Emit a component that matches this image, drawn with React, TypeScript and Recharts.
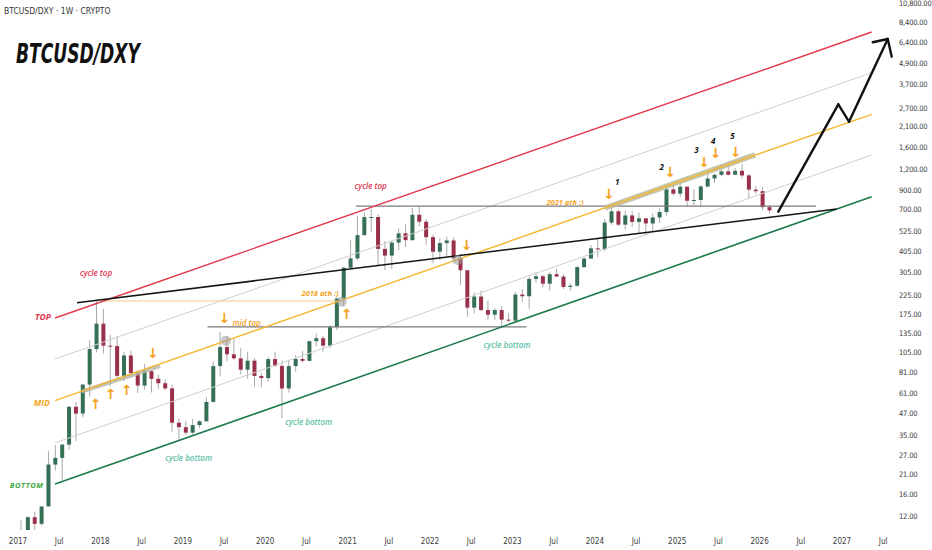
import React from 'react';
import { Bar, ComposedChart, ReferenceDot, ReferenceLine, XAxis, YAxis } from 'recharts';

const FIRST_YEAR = 2017;
const FIRST_OPEN = 9.4;

// monthly BTCUSD/DXY, Jan 2017 .. Feb 2026
const closes = [
  9.7, 11.8, 10.8, 13.6, 23.7, 25.9, 30.9, 51, 46.6, 68.5, 109.7, 153.6,
  114.7, 114, 76.9, 100.7, 79.8, 67.6, 81.8, 73.9, 69.7, 65.1, 41.3, 38.9,
  36.2, 40, 42.1, 54.4, 87.5, 112.6, 102.3, 97, 83.4, 94, 76.8, 74.6,
  96, 87.7, 65, 87.5, 96.2, 93.8, 121.7, 126.6, 114.8, 146.8, 214.4, 322.6,
  365, 497, 631, 632, 414, 379, 450, 509, 465, 651, 594, 484,
  399, 447, 463, 366, 312, 190, 220, 184, 173, 184, 162, 160,
  226, 221, 278, 288, 261, 296, 287, 250, 254, 325, 364, 417,
  412, 587, 682, 571, 645, 592, 621, 580, 628, 675, 912, 861,
  945, 784, 792, 947, 1053, 1105, 1158, 1107, 1166, 1097, 909, 890,
  720, 690,
];
const highs = [
  11.3, 11.9, 12.7, 13.6, 28.3, 30.7, 31, 51.3, 54.2, 68.5, 123, 208,
  186.7, 132.6, 130, 106, 107.4, 82.6, 90.1, 82.1, 78, 73.5, 68.1, 43.7,
  42.2, 43.5, 42.5, 57.8, 93, 138, 130, 126, 111, 106, 97.4, 80.6,
  98.3, 106, 94.3, 95, 101.2, 107, 122.7, 134.2, 130.6, 150.8, 215.9, 325.9,
  464, 644, 672, 702, 654, 459, 460, 543, 572, 713, 730, 615,
  500, 477, 488, 481, 386, 313, 232, 238, 209, 189, 194, 176,
  234, 243, 285, 305, 294, 306, 318, 296, 262, 330, 369, 436,
  477, 615, 712, 696, 688, 688, 670, 625, 662, 708, 935, 1014,
  1001, 949, 913, 963, 1119, 1128, 1260, 1269, 1209, 1281, 1116, 955,
  940, 740,
];
const lows = [
  7.5, 9.2, 8.9, 10.5, 13.6, 21.9, 19.4, 28.9, 32.3, 44.6, 58.5, 105,
  103.4, 67, 72, 71.8, 75.4, 61.2, 64.2, 61.6, 64.6, 63.5, 36.7, 32.3,
  35.1, 35.3, 38.5, 41.8, 54, 76.4, 93.5, 95.1, 78.3, 74.1, 66.6, 66,
  71.1, 86.4, 44, 61.5, 81.3, 91.9, 93.2, 113.4, 105.9, 110.9, 141.2, 193.4,
  321, 357, 494, 516, 334, 313, 317, 407, 424, 461, 558, 437,
  342, 357, 378, 365, 257, 168, 176, 181, 162, 162, 145, 157,
  159, 205, 187, 265, 249, 238, 285, 243, 237, 249, 323, 363,
  372, 403, 570, 559, 534, 555, 510, 500, 521, 583, 642, 838,
  818, 731, 737, 729, 936, 992, 1083, 1095, 1100, 1050, 805, 858,
  690, 660,
];

const priceTicks = [
  12, 16, 21, 27, 35, 47, 61, 81, 105, 135, 175, 225, 305, 405, 525, 700,
  900, 1200, 1600, 2100, 2700, 3700, 4900, 6400, 8400, 10800,
];
const timeLabels = [
  '2017', 'Jul', '2018', 'Jul', '2019', 'Jul', '2020', 'Jul', '2021', 'Jul', '2022',
  'Jul', '2023', 'Jul', '2024', 'Jul', '2025', 'Jul', '2026', 'Jul', '2027', 'Jul',
];
const timeTicks = timeLabels.map((_, i) => FIRST_YEAR + i * 0.5);

// drawn lines, [year, price] pairs
const topLine = [[2017.45, 165.6], [2027.36, 7352]];
const upperGrayLine = [[2017.45, 96.1], [2027.36, 4285]];
const midLine = [[2017.45, 55.3], [2027.36, 2468]];
const lowerGrayLine = [[2017.45, 31.6], [2027.36, 1439]];
const bottomLine = [[2017.45, 18.3], [2027.36, 827]];
const supportLine = [[2017.716, 202.8], [2026.936, 703]];
const ath2021Line = [[2021.1, 731], [2026.685, 731]];
const midTopLine = [[2019.3, 147], [2023.17, 147]];
const ath2018Line = [[2018.03, 207.5], [2020.87, 207.5]];
const projection = [[2026.227, 678], [2026.955, 2818], [2027.085, 2238], [2027.555, 6700]];
const projectionHead = [[2027.373, 6413], [2027.555, 6700], [2027.603, 5298]];
const band2018 = [[2017.773, 62.3], [2018.723, 87.6]];
const band2024 = [[2024.124, 712], [2025.944, 1439]];

const touchCircles = [[2019.524, 122.6], [2020.928, 205.7], [2022.331, 357.6]];
const arrowsDown = [
  [2018.638, 104.6], [2019.504, 164.9], [2022.445, 435.9], [2024.172, 857.6],
  [2024.913, 1152], [2025.325, 1317], [2025.467, 1471], [2025.709, 1503],
];
const arrowsUp = [[2017.943, 52.9], [2018.125, 60.2], [2018.319, 63.7], [2020.989, 174.6]];

const notes = [
  { text: 'cycle top', t: 2017.947, p: 300.8, kind: 'red' },
  { text: 'cycle top', t: 2021.28, p: 966, kind: 'red' },
  { text: 'TOP', t: 2017.303, p: 167.9, kind: 'redBold' },
  { text: 'MID', t: 2017.288, p: 54.1, kind: 'orangeBold' },
  { text: 'BOTTOM', t: 2017.105, p: 18.08, kind: 'greenBold' },
  { text: 'cycle bottom', t: 2019.071, p: 26.1, kind: 'teal' },
  { text: 'cycle bottom', t: 2020.528, p: 41.9, kind: 'teal' },
  { text: 'cycle bottom', t: 2022.934, p: 115.8, kind: 'teal' },
  { text: 'mid top', t: 2019.775, p: 157, kind: 'orange' },
  { text: '2018 ath :)', t: 2020.665, p: 229.8, kind: 'orangeSmall' },
  { text: '2021 ath :)', t: 2023.638, p: 774.5, kind: 'orangeSmall' },
  { text: '1', t: 2024.273, p: 1009.6, kind: 'count' },
  { text: '2', t: 2024.812, p: 1232, kind: 'count' },
  { text: '3', t: 2025.235, p: 1540, kind: 'count' },
  { text: '4', t: 2025.438, p: 1740, kind: 'count' },
  { text: '5', t: 2025.669, p: 1860, kind: 'count' },
];

const UP = '#356f55';
const DOWN = '#9a3049';
const WICK = '#a9a9a9';
const ORANGE = '#f5a21c';
const NARROW = "'Liberation Sans Narrow', 'DejaVu Sans Condensed', 'Liberation Sans', sans-serif";
const NOTE_FONT = "'Open Sans', 'Noto Sans', sans-serif";

const noteStyles: Record<string, { fill: string; size: number; weight: number; spacing?: number }> = {
  red: { fill: '#e0344c', size: 8, weight: 600 },
  redBold: { fill: '#e0344c', size: 8.5, weight: 700 },
  orangeBold: { fill: ORANGE, size: 8.5, weight: 700 },
  greenBold: { fill: '#3ea53e', size: 7.5, weight: 700, spacing: 0.6 },
  teal: { fill: '#5ec1a7', size: 8, weight: 600 },
  orange: { fill: ORANGE, size: 8, weight: 600 },
  orangeSmall: { fill: ORANGE, size: 7.5, weight: 700 },
  count: { fill: '#111', size: 8, weight: 700 },
};

const candles = closes.map((c, i) => ({
  t: FIRST_YEAR + (i + 0.5) / 12,
  o: i === 0 ? FIRST_OPEN : closes[i - 1],
  c,
  h: highs[i],
  l: lows[i],
  range: [lows[i], highs[i]],
}));

const Candle = (props: any) => {
  const { x, y, width, height, payload } = props;
  if (x == null || y == null) return null;
  const { o, c, h, l } = payload;
  const span = Math.log(h) - Math.log(l);
  const py = (v: number) => (span === 0 ? y : y + (height * (Math.log(h) - Math.log(v))) / span);
  const top = py(Math.max(o, c));
  const bot = py(Math.min(o, c));
  const cx = x + width / 2;
  return (
    <g>
      <line x1={cx} x2={cx} y1={y} y2={y + height} stroke={WICK} strokeWidth={1} />
      <rect x={x} y={top} width={width} height={Math.max(1, bot - top)} fill={c >= o ? UP : DOWN} />
    </g>
  );
};

const PriceTick = (props: any) => {
  const { x, y, payload } = props;
  const label = Number(payload.value).toLocaleString('en-US', {
    minimumFractionDigits: 2,
    maximumFractionDigits: 2,
  });
  return (
    <text x={x} y={y} dy={3} textAnchor="start" fontSize={7.5} fill="#3a3a3a" fontFamily={NARROW} letterSpacing={-0.2}>
      {label}
    </text>
  );
};

const path = (pts: number[][], key: string, stroke: string, width: number, extra: any = {}) =>
  pts.slice(1).map((pt, i) => (
    <ReferenceLine
      key={`${key}-${i}`}
      segment={[
        { x: pts[i][0], y: pts[i][1] },
        { x: pt[0], y: pt[1] },
      ]}
      stroke={stroke}
      strokeWidth={width}
      ifOverflow="visible"
      {...extra}
    />
  ));

const textLabel = (text: string, fill: string, size: number, weight: number, italic: boolean, font: string, spacing = 0) =>
  (p: any) => {
    const vb = p.viewBox || {};
    return (
      <text
        x={(vb.x || 0) + (vb.width || 0) / 2}
        y={(vb.y || 0) + (vb.height || 0) / 2}
        textAnchor="middle"
        dominantBaseline="central"
        fill={fill}
        fontSize={size}
        fontWeight={weight}
        fontStyle={italic ? 'italic' : 'normal'}
        fontFamily={font}
        letterSpacing={spacing}
      >
        {text}
      </text>
    );
  };

const App = () => (
  <div style={{ position: 'absolute', left: 0, top: 0, width: 932, height: 550, background: '#fff' }}>
    <ComposedChart width={932} height={550} data={candles} margin={{ top: 0, right: 0, bottom: 0, left: 0 }}>
      <XAxis
        type="number"
        dataKey="t"
        domain={[2016.7816, 2027.643]}
        allowDataOverflow
        ticks={timeTicks}
        interval={0}
        tickFormatter={(_v: number, i: number) => timeLabels[i]}
        axisLine={false}
        tickLine={false}
        height={20}
        tick={{ fontSize: 8, fill: '#3a3a3a', fontFamily: NARROW }}
      />
      <YAxis
        orientation="right"
        type="number"
        scale="log"
        domain={[9.95, 11238]}
        allowDataOverflow
        ticks={priceTicks}
        interval={0}
        axisLine={false}
        tickLine={false}
        width={37}
        tickSize={3}
        tickMargin={1}
        tick={<PriceTick />}
      />

      {path(upperGrayLine, 'g1', '#cfcfcf', 1)}
      {path(lowerGrayLine, 'g2', '#cfcfcf', 1)}
      {path(ath2018Line, 'a18', '#f7c983', 1)}
      {path(midTopLine, 'mt', '#7a7a7a', 1.2)}
      {path(ath2021Line, 'a21', '#7a7a7a', 1.2)}
      {path(band2018, 'b18', '#b5b5a8', 4, { strokeOpacity: 0.8 })}
      {path(band2024, 'b24', '#b6b696', 5.5, { strokeOpacity: 0.8 })}

      <Bar dataKey="range" barSize={4} shape={(p: any) => <Candle {...p} />} isAnimationActive={false} />

      {path(topLine, 'top', '#e23a4c', 1.4)}
      {path(midLine, 'mid', '#f6b52c', 1.4)}
      {path(bottomLine, 'bot', '#1c7a4c', 1.6)}
      {path(supportLine, 'sup', '#141414', 1.5)}
      {path(projection, 'proj', '#111', 2.4, { strokeLinecap: 'round' })}
      {path(projectionHead, 'head', '#111', 2.4, { strokeLinecap: 'round' })}

      {touchCircles.map(([t, p], i) => (
        <ReferenceDot key={`c${i}`} x={t} y={p} r={5} fill="#9a9a9a" fillOpacity={0.55} stroke="none" />
      ))}
      {arrowsDown.map(([t, p], i) => (
        <ReferenceDot
          key={`ad${i}`}
          x={t}
          y={p}
          r={0}
          fill="none"
          stroke="none"
          label={textLabel('↓', ORANGE, 14, 700, false, "'DejaVu Sans', sans-serif")}
        />
      ))}
      {arrowsUp.map(([t, p], i) => (
        <ReferenceDot
          key={`au${i}`}
          x={t}
          y={p}
          r={0}
          fill="none"
          stroke="none"
          label={textLabel('↑', ORANGE, 14, 700, false, "'DejaVu Sans', sans-serif")}
        />
      ))}
      {notes.map((n, i) => {
        const s = noteStyles[n.kind];
        return (
          <ReferenceDot
            key={`n${i}`}
            x={n.t}
            y={n.p}
            r={0}
            fill="none"
            stroke="none"
            label={textLabel(n.text, s.fill, s.size, s.weight, true, NOTE_FONT, s.spacing || 0)}
          />
        );
      })}
    </ComposedChart>

    <svg width={200} height={70} style={{ position: 'absolute', left: 0, top: 0 }}>
      <text x={4} y={13.5} fontSize={8.5} fill="#333" fontFamily={NARROW}>
        BTCUSD/DXY · 1W · CRYPTO
      </text>
      <text
        x={16}
        y={62.5}
        fontSize={27}
        fontWeight={700}
        fontStyle="italic"
        fill="#111"
        fontFamily={NARROW}
        textLength={124}
        lengthAdjust="spacingAndGlyphs"
      >
        BTCUSD/DXY
      </text>
    </svg>
  </div>
);

export default App;
